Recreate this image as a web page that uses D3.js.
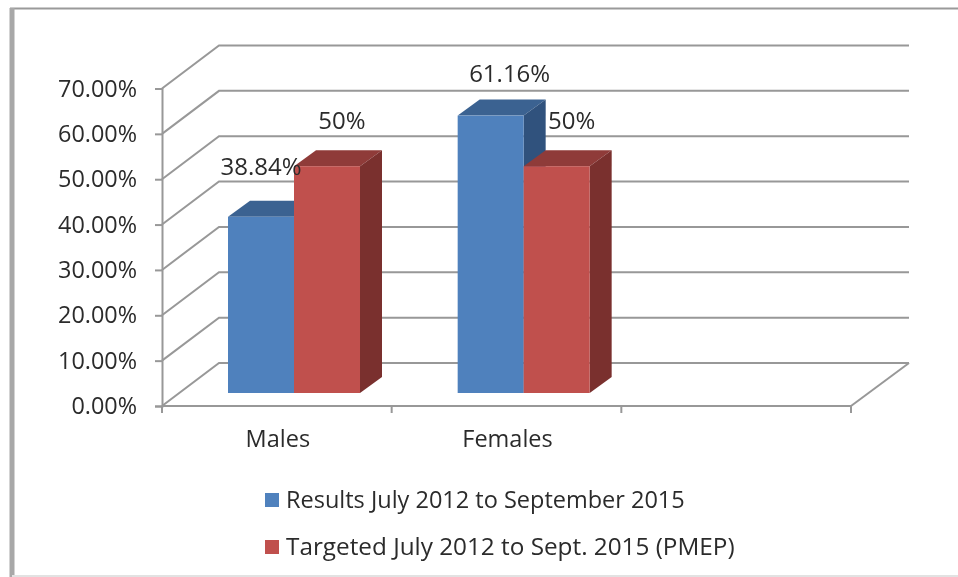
<!DOCTYPE html>
<html>
<head>
<meta charset="utf-8">
<script src="https://cdnjs.cloudflare.com/ajax/libs/d3/7.8.5/d3.min.js"></script>
<style>
  html, body { margin: 0; padding: 0; background: #fff; }
  svg { display: block; filter: blur(0.4px); }
  text { font-family: "Open Sans", sans-serif; fill: #2b2b2b; }
</style>
</head>
<body>
<div id="chart"></div>
<script>
// Chart values
const categories = ["Males", "Females", ""];
const seriesNames = ["Results July 2012 to September 2015", "Targeted July 2012 to Sept. 2015 (PMEP)"];
const results = [38.84, 61.16];
const targets = [50, 50];
const resultLabels = ["38.84%", "61.16%"];
const targetLabels = ["50%", "50%"];
const yTicks = [0, 10, 20, 30, 40, 50, 60, 70];

const width = 958;
const height = 577;

const svg = d3.select("#chart")
    .append("svg")
    .attr("width", width)
    .attr("height", height);

// Frame around the chart
svg.append("rect").attr("x", 0).attr("y", 0).attr("width", width).attr("height", height).attr("fill", "#fff");
svg.append("line").attr("x1", 10).attr("x2", width).attr("y1", 8.5).attr("y2", 8.5)
    .attr("stroke", "#9a9a9a").attr("stroke-width", 2);
svg.append("line").attr("x1", 12).attr("x2", 12).attr("y1", 8).attr("y2", height)
    .attr("stroke", "#a8a8a8").attr("stroke-width", 5);
svg.append("line").attr("x1", 12).attr("x2", width).attr("y1", 576).attr("y2", 576)
    .attr("stroke", "#e2e2e2").attr("stroke-width", 2);

// Scales, front plane of the 3d box
const x = d3.scaleBand().domain(categories).range([162, 851]);
const y = d3.scaleLinear().domain([0, 70]).range([406, 88.5]);

// Depth of the box and of the bars
const wallDx = 57, wallDy = 43;
const barOffsetDy = 13;
const barDx = 22, barDy = 16;
const barInset = 66, barWidth = 66;

const gridColor = "#989898";

// Back wall gridlines and side wall diagonals
const grid = svg.append("g").attr("fill", "none").attr("stroke", gridColor).attr("stroke-width", 2);
yTicks.forEach(function(t) {
    grid.append("path")
        .attr("d", d3.line()([
            [x.range()[0], y(t)],
            [x.range()[0] + wallDx, y(t) - wallDy],
            [x.range()[1] + wallDx + 1, y(t) - wallDy]
        ]));
});
// Floor right edge
grid.append("line")
    .attr("x1", x.range()[1]).attr("y1", y(0))
    .attr("x2", x.range()[1] + wallDx + 1).attr("y2", y(0) - wallDy);

// Y axis
const yAxis = d3.axisLeft(y)
    .tickValues(yTicks)
    .tickSize(7)
    .tickPadding(18)
    .tickFormat(d => d.toFixed(2) + "%");
const yG = svg.append("g").attr("transform", `translate(${x.range()[0]},0)`).call(yAxis);
yG.select(".domain").attr("stroke", gridColor).attr("stroke-width", 2);
yG.selectAll(".tick line").attr("stroke", gridColor).attr("stroke-width", 2);
yG.selectAll(".tick text").style("font-size", "23.4px").style("font-family", '"Open Sans", sans-serif').attr("fill", "#2b2b2b");

// X axis, ticks sit on the band edges
const xEdges = categories.map(c => x(c)).concat([x.range()[1]]);
const xG = svg.append("g").attr("stroke", gridColor).attr("stroke-width", 2);
xG.append("line").attr("x1", x.range()[0]).attr("x2", x.range()[1]).attr("y1", y(0)).attr("y2", y(0));
xG.selectAll("line.tick").data(xEdges).enter().append("line")
    .attr("class", "tick")
    .attr("x1", d => d).attr("x2", d => d)
    .attr("y1", y(0)).attr("y2", y(0) + 7);

// Category labels
svg.selectAll("text.cat").data(categories.slice(0, 2)).enter().append("text")
    .attr("class", "cat")
    .attr("x", d => x(d) + x.bandwidth() / 2 + 1)
    .attr("y", 447)
    .attr("text-anchor", "middle")
    .style("font-size", "23.5px")
    .text(d => d);

// One 3d bar: top and side first, then the front face
function drawBar(g, left, value, front, top, side) {
    const base = y(0) - barOffsetDy;
    const yTop = y(value) - barOffsetDy;
    const right = left + barWidth;
    g.append("polygon").attr("fill", top).attr("points", [
        [left, yTop], [left + barDx, yTop - barDy], [right + barDx, yTop - barDy], [right, yTop]
    ].join(" "));
    g.append("polygon").attr("fill", side).attr("points", [
        [right, yTop], [right + barDx, yTop - barDy], [right + barDx, base - barDy], [right, base]
    ].join(" "));
    g.append("rect").attr("fill", front)
        .attr("x", left).attr("y", yTop)
        .attr("width", barWidth).attr("height", base - yTop);
}

const blue = { front: "#4f81bd", top: "#3b6291", side: "#30527d" };
const red = { front: "#c0504d", top: "#8f3b39", side: "#7a302e" };

categories.slice(0, 2).forEach(function(c, i) {
    const g = svg.append("g");
    const left = x(c) + barInset;
    drawBar(g, left, results[i], blue.front, blue.top, blue.side);
    drawBar(g, left + barWidth, targets[i], red.front, red.top, red.side);
});

// Data labels, nudged by hand like in the original
const resultNudge = [[0, -42], [19, -34]];
const targetNudge = [[15, -37], [15, -37]];
categories.slice(0, 2).forEach(function(c, i) {
    const left = x(c) + barInset;
    svg.append("text")
        .attr("x", left + barWidth / 2 + resultNudge[i][0])
        .attr("y", y(results[i]) - barOffsetDy + resultNudge[i][1])
        .attr("text-anchor", "middle")
        .style("font-size", "24px")
        .text(resultLabels[i]);
    svg.append("text")
        .attr("x", left + barWidth * 1.5 + targetNudge[i][0])
        .attr("y", y(targets[i]) - barOffsetDy + targetNudge[i][1])
        .attr("text-anchor", "middle")
        .style("font-size", "24px")
        .text(targetLabels[i]);
});

// Legend
const legend = svg.selectAll("g.legend").data(seriesNames).enter().append("g")
    .attr("class", "legend")
    .attr("transform", (d, i) => `translate(265,${493 + i * 47})`);
legend.append("rect")
    .attr("width", 14).attr("height", 14)
    .attr("fill", (d, i) => i === 0 ? blue.front : red.front);
legend.append("text")
    .attr("x", 21).attr("y", 15)
    .style("font-size", (d, i) => i === 0 ? "23.5px" : "24.3px")
    .text(d => d);
</script>
</body>
</html>
